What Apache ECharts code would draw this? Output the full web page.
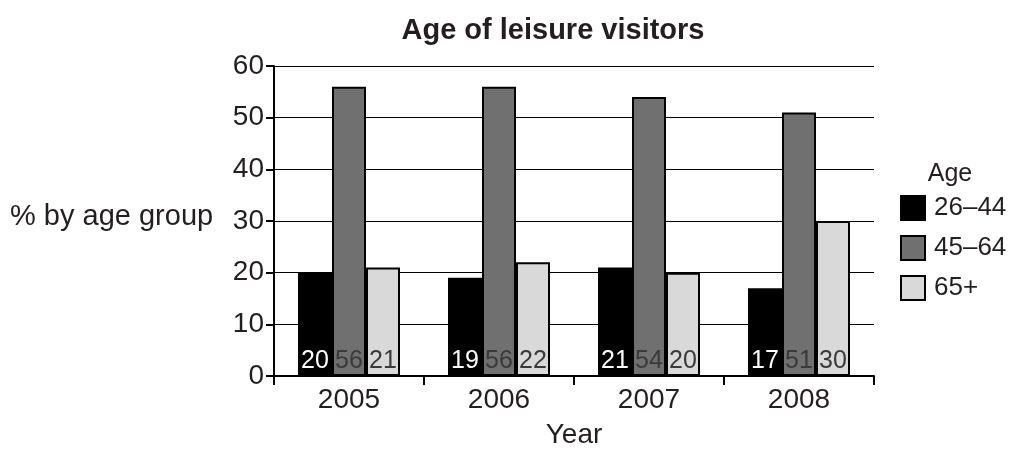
<!DOCTYPE html>
<html><head><meta charset="utf-8">
<script src="https://cdn.jsdelivr.net/npm/echarts@6/dist/echarts.min.js"></script>
<style>html,body{margin:0;padding:0;background:#fff}#c{width:1009px;height:454px}</style>
</head><body><div id="c"></div>
<script>
const years = ['2005', '2006', '2007', '2008'];
const seriesNames = ['26–44', '45–64', '65+'];
const age26to44 = [20, 19, 21, 17];
const age45to64 = [56, 56, 54, 51];
const age65plus = [21, 22, 20, 30];
const yTicks = [0, 10, 20, 30, 40, 50, 60];

const FONT = 'Liberation Sans, Arial, Helvetica, sans-serif';
const TXT = '#231f20';
const fills = ['#000000', '#707070', '#d9d9d9'];
const labelColors = ['#ffffff', '#3a3a3a', '#3a3a3a'];
const values = [age26to44, age45to64, age65plus];

const chart = echarts.init(document.getElementById('c'));
chart.setOption({
  animation: false,
  textStyle: { fontFamily: FONT },
  title: [
    { text: 'Age of leisure visitors', left: 553, top: 16, textAlign: 'center', padding: 0,
      textStyle: { fontFamily: FONT, fontSize: 29, fontWeight: 'bold', color: TXT } },
    { text: 'Age', left: 950, top: 162, textAlign: 'center', padding: 0,
      textStyle: { fontFamily: FONT, fontSize: 25, fontWeight: 'normal', color: TXT } }
  ],
  legend: {
    orient: 'vertical', left: 900, top: 195, icon: 'rect', padding: 0,
    itemWidth: 24, itemHeight: 24, itemGap: 14,
    textStyle: { fontFamily: FONT, fontSize: 26, color: TXT, padding: [0, 0, 0, 4] },
    data: seriesNames.map((n, i) => ({ name: n, itemStyle: { color: fills[i], borderColor: '#000', borderWidth: 2 } }))
  },
  graphic: [
    { type: 'text', left: 10, top: 202, style: { text: '% by age group', font: '29px ' + FONT, fill: TXT } }
  ],
  grid: { left: 274, right: 135, top: 66, bottom: 76 },
  xAxis: {
    type: 'category', data: years,
    name: 'Year', nameLocation: 'middle', nameGap: 45,
    nameTextStyle: { fontFamily: FONT, fontSize: 28, color: TXT },
    axisLine: { lineStyle: { color: '#000', width: 2 } },
    axisTick: { show: true, length: 9, lineStyle: { color: '#000', width: 2 } },
    axisLabel: { fontFamily: FONT, fontSize: 28, color: TXT, margin: 10 }
  },
  yAxis: {
    type: 'value', min: 0, max: 60, interval: 10,
    axisLine: { show: true, lineStyle: { color: '#000', width: 2 } },
    axisTick: { show: true, length: 8, lineStyle: { color: '#000', width: 2 } },
    axisLabel: { fontFamily: FONT, fontSize: 28, color: TXT, margin: 10,
      formatter: v => yTicks.includes(v) ? String(v) : '' },
    splitLine: { show: true, lineStyle: { color: '#000', width: 1 } }
  },
  series: seriesNames.map((n, i) => ({
    name: n, type: 'bar', data: values[i],
    barWidth: 34, barGap: '0%',
    itemStyle: { color: fills[i], borderColor: '#000', borderWidth: 2 },
    label: { show: true, position: 'insideBottom', distance: 2,
      fontFamily: FONT, fontSize: 25, color: labelColors[i] }
  }))
});
</script></body></html>
